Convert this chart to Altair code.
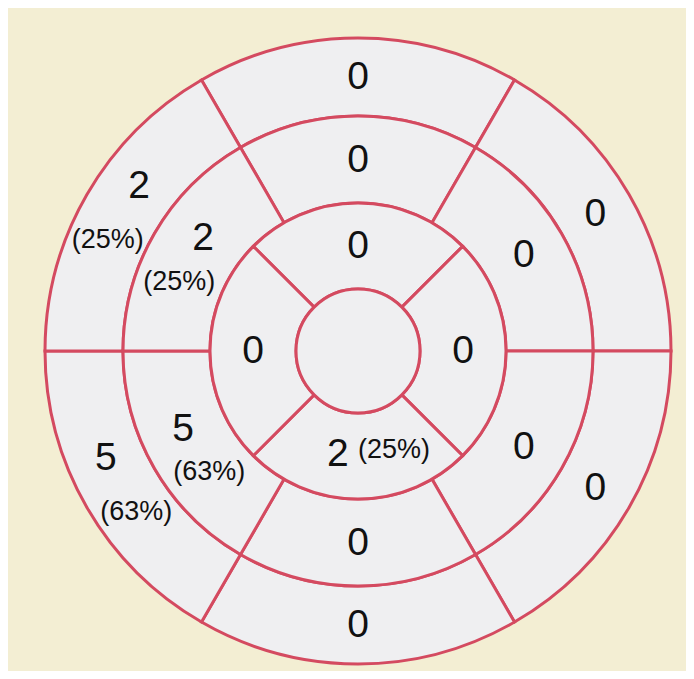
import altair as alt
import pandas as pd

# ---- data ----
basal_counts = [0, 0, 0, 0, 5, 2]          # top, upper-right, lower-right, bottom, lower-left, upper-left
basal_pct = ["", "", "", "", "(63%)", "(25%)"]
mid_counts = [0, 0, 0, 0, 5, 2]
mid_pct = ["", "", "", "", "(63%)", "(25%)"]
apical_counts = [0, 0, 2, 0]                # top, right, bottom, left
apical_pct = ["", "", "(25%)", ""]

# ---- style / layout constants ----
BG = "#f3eed3"
FILL = "#efeff1"
STROKE = "#d44a60"
CX, CY = 350, 343
RING_RADII = [0, 62, 148, 235, 313]
NUM_OFF = {3: 7, 2: 6, 1: 11}     # angular shift (deg) of number when a percent follows
PCT_OFF = {3: -6, 2: -9, 1: -20}

rows = []
for ring, counts, pcts in [(3, basal_counts, basal_pct), (2, mid_counts, mid_pct), (1, apical_counts, apical_pct)]:
    n = len(counts)
    span = 360 / n
    for i, (c, p) in enumerate(zip(counts, pcts)):
        start = -span / 2 + span * i
        mid = start + span / 2
        rows.append(dict(r0=ring, r1=ring + 1, start=start, end=start + span,
                         rmid=ring + 0.5, count=str(c), pct=p,
                         tn=mid + (NUM_OFF[ring] if p else 0), tp=mid + PCT_OFF[ring]))
seg = pd.DataFrame(rows)
apex = pd.DataFrame([dict(r0=0, r1=1, start=0, end=360)])
arcs_df = pd.concat([seg[["r0", "r1", "start", "end"]], apex], ignore_index=True)

theta_scale = alt.Scale(type="linear", domain=[0, 360], range=[0, 6.283185307179586], zero=False)
radius_scale = alt.Scale(type="linear", domain=[0, 1, 2, 3, 4], range=RING_RADII, zero=False)

arcs = alt.Chart(arcs_df).mark_arc(fill=FILL, stroke=STROKE, strokeWidth=3).encode(
    theta=alt.Theta("start:Q", scale=theta_scale, stack=False),
    theta2="end:Q",
    radius=alt.Radius("r1:Q", scale=radius_scale),
    radius2="r0:Q",
    x=alt.value(CX), y=alt.value(CY),
)

nums = alt.Chart(seg).mark_text(font="Liberation Sans", fontSize=39, color="#111111",
                                align="center", baseline="middle").encode(
    theta=alt.Theta("tn:Q", scale=theta_scale, stack=False),
    radius=alt.Radius("rmid:Q", scale=radius_scale),
    text="count:N",
    x=alt.value(CX), y=alt.value(CY),
)

pcts = alt.Chart(seg).transform_filter("datum.pct != ''").mark_text(
    font="Liberation Sans", fontSize=27, color="#111111", align="center", baseline="middle").encode(
    theta=alt.Theta("tp:Q", scale=theta_scale, stack=False),
    radius=alt.Radius("rmid:Q", scale=radius_scale),
    text="pct:N",
    x=alt.value(CX), y=alt.value(CY),
)

chart = alt.layer(arcs, nums, pcts).properties(
    width=678, height=663, background=BG, padding=0,
    autosize=alt.AutoSizeParams(type="none"),
).configure_view(strokeWidth=0)

chart.save("out.html", embed_options={"renderer": "svg", "actions": False})
